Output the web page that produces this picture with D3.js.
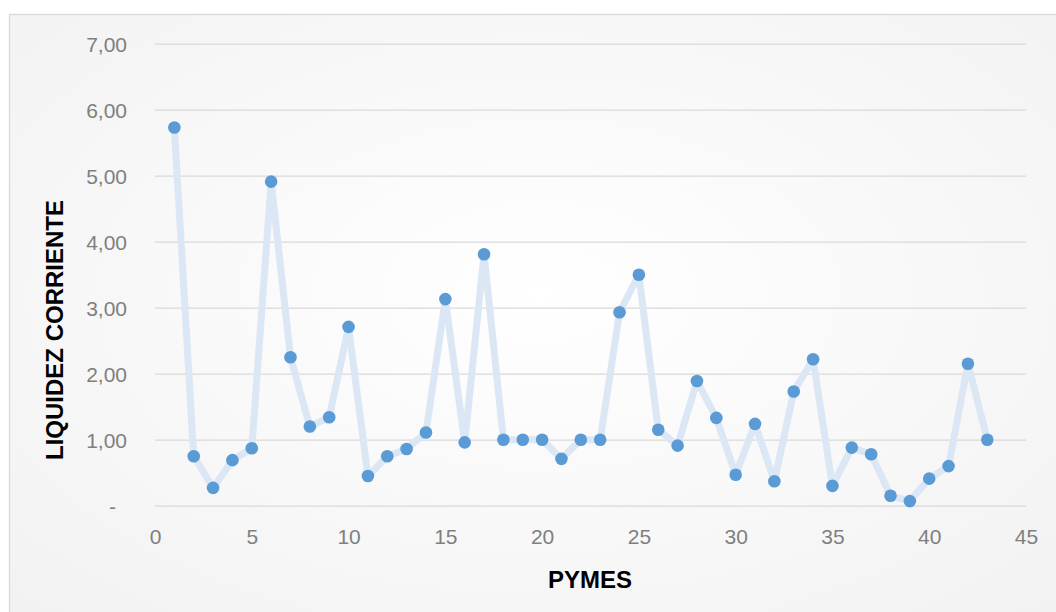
<!DOCTYPE html>
<html>
<head>
<meta charset="utf-8">
<script src="https://cdn.jsdelivr.net/npm/d3@7"></script>
<style>
html,body{margin:0;padding:0;background:#fff;}
svg{display:block;}
</style>
</head>
<body>
<svg id="chart" width="1056" height="612"></svg>
<script>
const pymes = d3.range(1, 44);
const liquidez = [5.73, 0.75, 0.27, 0.69, 0.87, 4.91, 2.25, 1.20, 1.34, 2.71,
  0.45, 0.75, 0.86, 1.11, 3.13, 0.96, 3.81, 1.00, 1.00, 1.00,
  0.71, 1.00, 1.00, 2.93, 3.50, 1.15, 0.91, 1.89, 1.33, 0.47,
  1.24, 0.37, 1.73, 2.22, 0.30, 0.88, 0.78, 0.15, 0.07, 0.41,
  0.60, 2.15, 1.00];
const yTicks = [0, 1, 2, 3, 4, 5, 6, 7];
const xTicks = [0, 5, 10, 15, 20, 25, 30, 35, 40, 45];
const xTitle = "PYMES";
const yTitle = "LIQUIDEZ CORRIENTE";

const svg = d3.select("#chart");
const defs = svg.append("defs");
const grad = defs.append("radialGradient").attr("id", "bg")
  .attr("cx", "50%").attr("cy", "45%").attr("r", "70%");
grad.append("stop").attr("offset", "0%").attr("stop-color", "#ffffff");
grad.append("stop").attr("offset", "100%").attr("stop-color", "#f2f2f2");

svg.append("rect").attr("x", 9.5).attr("y", 14.5).attr("width", 1060).attr("height", 620)
  .attr("fill", "url(#bg)").attr("stroke", "#d9d9d9").attr("stroke-width", 1.3);

const x = d3.scaleLinear().domain([0, 45]).range([155, 1026]);
const y = d3.scaleLinear().domain([0, 7]).range([505.7, 43.7]);

const fmt = v => v === 0 ? "-" : d3.format(".2f")(v).replace(".", ",");

const yAxis = d3.axisLeft(y).tickValues(yTicks).tickSize(-(1026 - 155)).tickFormat(fmt);
const gy = svg.append("g").attr("transform", "translate(155,0)").call(yAxis);
gy.select(".domain").remove();
gy.selectAll(".tick line").attr("stroke", "#d9d9d9").attr("stroke-width", 1.3);
gy.selectAll(".tick text")
  .attr("fill", "#7f7f7f").style("font-family", "'Liberation Sans', Arial, sans-serif")
  .style("font-size", "21px").attr("dy", "0.36em")
  .attr("x", d => d === 0 ? -39 : -28);

const xAxis = d3.axisBottom(x).tickValues(xTicks).tickSize(0).tickPadding(23);
const gx = svg.append("g").attr("transform", "translate(0,505.7)").call(xAxis);
gx.select(".domain").remove();
gx.selectAll(".tick text")
  .attr("fill", "#7f7f7f").style("font-family", "'Liberation Sans', Arial, sans-serif")
  .style("font-size", "21px").attr("dy", "0.71em");

const line = d3.line().x((d, i) => x(pymes[i])).y(d => y(d));
svg.append("path").datum(liquidez).attr("d", line)
  .attr("fill", "none").attr("stroke", "#dbe7f4").attr("stroke-width", 7)
  .attr("stroke-linejoin", "round").attr("stroke-linecap", "round");

svg.append("g").selectAll("circle").data(liquidez).join("circle")
  .attr("cx", (d, i) => x(pymes[i])).attr("cy", d => y(d)).attr("r", 6.3)
  .attr("fill", "#5b9bd5");

svg.append("text").attr("x", 590).attr("y", 588).attr("text-anchor", "middle")
  .style("font-family", "'Liberation Sans', Arial, sans-serif").style("font-weight", "bold")
  .style("font-size", "24px").attr("fill", "#000").text(xTitle);

svg.append("text").attr("transform", "translate(63,330) rotate(-90)").attr("text-anchor", "middle")
  .style("font-family", "'Liberation Sans', Arial, sans-serif").style("font-weight", "bold")
  .style("font-size", "24px").attr("fill", "#000").text(yTitle);
</script>
</body>
</html>
